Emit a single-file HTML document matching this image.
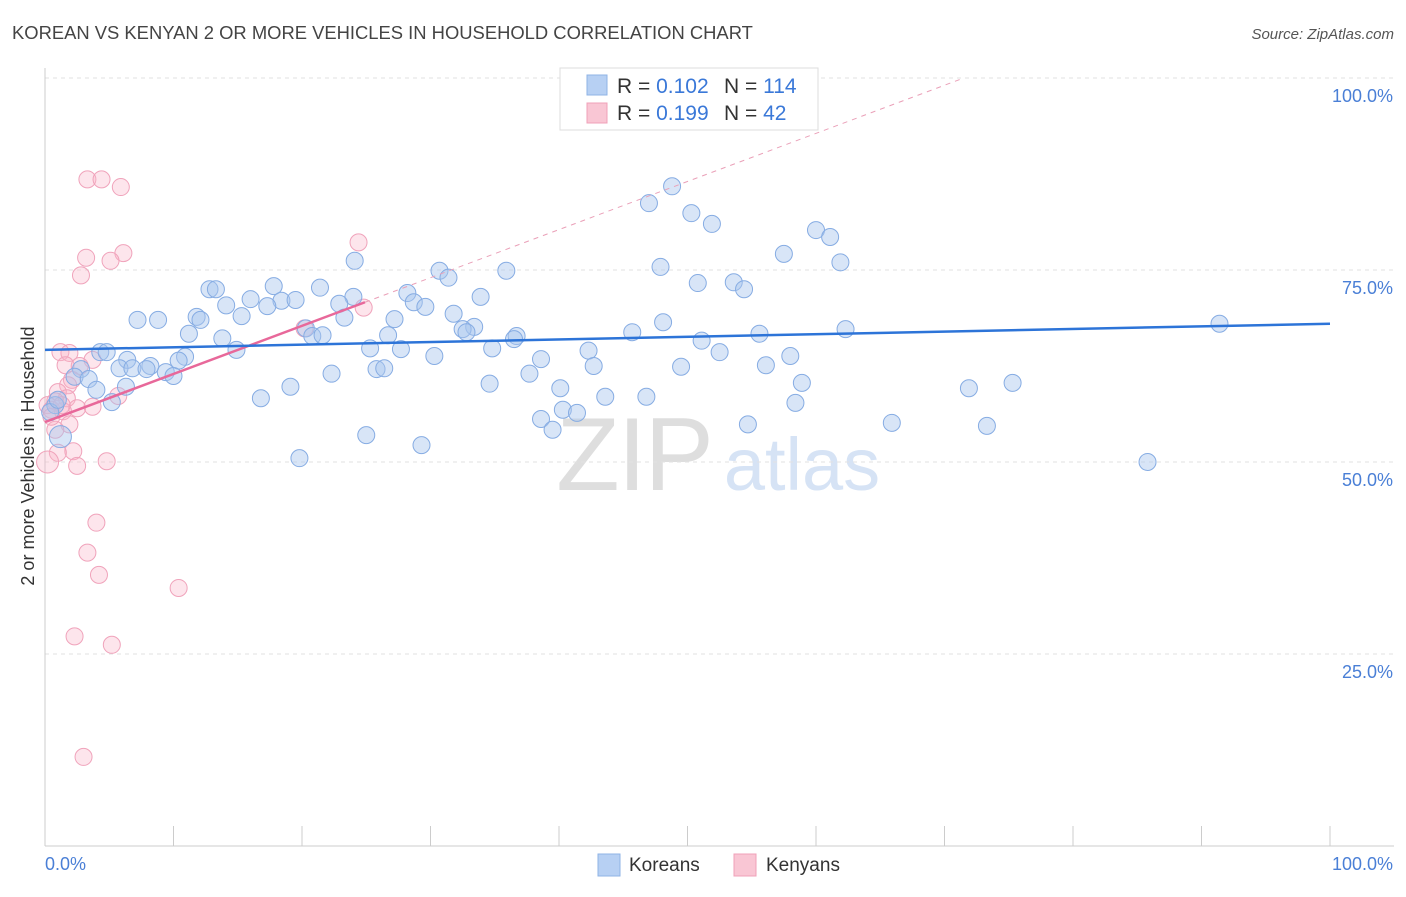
<!DOCTYPE html>
<html><head><meta charset="utf-8">
<style>
body{margin:0;background:#fff;font-family:"Liberation Sans",sans-serif;}
svg text{font-family:"Liberation Sans",sans-serif;}
</style></head>
<body>
<svg id="chart" width="1406" height="892" viewBox="0 0 1406 892" xmlns="http://www.w3.org/2000/svg">
<text x="12" y="39" font-size="18.4" fill="#444">KOREAN VS KENYAN 2 OR MORE VEHICLES IN HOUSEHOLD CORRELATION CHART</text>
<text x="1394" y="39" font-size="15" fill="#555" text-anchor="end" font-style="italic">Source: ZipAtlas.com</text>
<text transform="translate(34,456) rotate(-90)" font-size="18" fill="#333" text-anchor="middle">2 or more Vehicles in Household</text>
<g>
<text x="634" y="490" font-size="104" fill="#dedede" text-anchor="middle" font-family="Liberation Serif, serif" letter-spacing="-2">ZIP</text>
<text x="802" y="490" font-size="74" fill="#d6e3f5" text-anchor="middle">atlas</text>
</g>
<g id="grid"></g>
<g id="axes"></g>
<g id="pinkPts"></g>
<g id="bluePts"></g>
<g id="trends"></g>
<g>
<rect x="560" y="68" width="258" height="62" fill="#fff" stroke="#ddd"/>
<rect x="587" y="75" width="20" height="20" fill="#b7d0f3" stroke="#8fb3e6"/>
<rect x="587" y="103" width="20" height="20" fill="#f9c6d4" stroke="#f0a0b8"/>
<text x="617" y="93" font-size="21" fill="#333">R = <tspan fill="#3a78d8">0.102</tspan></text>
<text x="724" y="93" font-size="21" fill="#333">N = <tspan fill="#3a78d8">114</tspan></text>
<text x="617" y="120" font-size="21" fill="#333">R = <tspan fill="#3a78d8">0.199</tspan></text>
<text x="724" y="120" font-size="21" fill="#333">N = <tspan fill="#3a78d8"> 42</tspan></text>
</g>
<g>
<rect x="598" y="854" width="22" height="22" fill="#b7d0f3" stroke="#8fb3e6"/>
<text x="629" y="871" font-size="19" fill="#333">Koreans</text>
<rect x="734" y="854" width="22" height="22" fill="#f9c6d4" stroke="#f0a0b8"/>
<text x="766" y="871" font-size="19" fill="#333">Kenyans</text>
</g>
</svg>
<script>
const blueX=[48.8,47.0,50.3,51.9,60.0,61.1,57.5,61.9,47.9,24.1,30.7,31.4,35.9,17.8,12.8,13.3,21.4,50.8,53.6,54.4,28.2,24.0,33.9,16.0,18.4,19.5,17.3,22.9,28.7,29.6,14.1,11.8,12.1,15.3,7.2,8.8,23.3,27.2,31.8,20.3,33.4,32.5,32.8,11.2,13.8,20.8,21.6,26.7,36.7,36.5,45.7,48.1,51.1,55.6,62.3,91.4,14.9,25.3,27.7,34.8,42.3,52.5,58.0,4.3,4.8,6.4,10.9,30.3,38.6,5.8,6.8,8.2,7.9,10.4,9.4,10.0,2.8,2.3,3.4,4.0,6.3,25.8,26.4,22.3,49.5,56.1,42.7,37.7,34.6,19.1,58.9,40.1,43.6,46.8,58.4,16.8,5.2,71.9,75.3,38.6,40.3,41.4,39.5,54.7,65.9,73.3,25.0,29.3,19.8,85.8,1.2,0.8,0.4,1.0];
const blueY=[85.9,83.7,82.4,81.0,80.2,79.3,77.1,76.0,75.4,76.2,74.9,74.0,74.9,72.9,72.5,72.5,72.7,73.3,73.4,72.5,72.0,71.5,71.5,71.2,71.0,71.1,70.3,70.6,70.8,70.2,70.4,68.9,68.5,69.0,68.5,68.5,68.8,68.6,69.3,67.4,67.6,67.3,66.9,66.7,66.1,66.4,66.5,66.5,66.4,66.0,66.9,68.2,65.8,66.7,67.3,68.0,64.6,64.8,64.7,64.8,64.5,64.3,63.8,64.3,64.3,63.3,63.7,63.8,63.4,62.2,62.2,62.5,62.1,63.2,61.7,61.2,62.1,61.1,60.8,59.4,59.8,62.1,62.2,61.5,62.4,62.6,62.5,61.5,60.2,59.8,60.3,59.6,58.5,58.5,57.7,58.3,57.8,59.6,60.3,55.6,56.8,56.4,54.2,54.9,55.1,54.7,53.5,52.2,50.5,50.0,53.3,57.4,56.5,58.1];
const pinkX=[3.3,4.4,5.9,6.1,3.2,5.1,2.8,24.4,24.8,20.2,1.2,1.9,3.7,1.6,2.7,2.1,1.8,1.0,1.7,0.8,0.2,0.5,2.5,3.7,5.7,1.4,1.9,2.2,1.0,2.5,4.8,0.2,4.0,3.3,4.2,10.4,2.3,5.2,3.0,0.8,1.3,0.5];
const pinkY=[86.8,86.8,85.8,77.2,76.6,76.2,74.3,78.6,70.1,67.4,64.3,64.2,63.3,62.6,62.5,60.7,60.0,59.1,58.3,57.9,57.4,56.8,57.0,57.2,58.6,56.6,54.9,51.4,51.2,49.5,50.1,50.0,42.1,38.2,35.3,33.6,27.3,26.2,11.6,54.2,57.4,55.9];
const blueTrend=[64.6,68.0];
const pinkTrend=[55.2,70.8];
const pinkMaxX=24.9;
const yTicks=[25,50,75,100];
const yTickLabels=["25.0%","50.0%","75.0%","100.0%"];
const xTicks=[0,10,20,30,40,50,60,70,80,90,100];

const X0=45,X1=1330,Y0=846,Y100=78;
const sx=v=>X0+(X1-X0)*v/100;
const sy=v=>Y0-(Y0-Y100)*v/100;
const NS="http://www.w3.org/2000/svg";
function mk(tag,parent,attrs){const e=document.createElementNS(NS,tag);for(const k in attrs)e.setAttribute(k,attrs[k]);parent.appendChild(e);return e;}
const grid=document.getElementById('grid'),axes=document.getElementById('axes');
yTicks.forEach((t,i)=>{
  const l=mk('line',grid,{x1:X0,x2:1394,y1:sy(t),y2:sy(t),stroke:'#e2e2e2','stroke-dasharray':'4,4'});
  
  
  const tx=mk('text',axes,{x:1393,y:sy(t)+24,'font-size':18,fill:'#4a7fd6','text-anchor':'end'});
  tx.textContent=yTickLabels[i];
  
  
});
const ya=mk('line',axes,{x1:X0,x2:X0,y1:68,y2:Y0,stroke:'#ccc'});


const xa=mk('line',axes,{x1:X0,x2:1394,y1:Y0,y2:Y0,stroke:'#ccc'});


xTicks.forEach(t=>{
  const l=mk('line',axes,{x1:sx(t),x2:sx(t),y1:826,y2:Y0,stroke:'#ccc'});
  
  
});
const xl0=mk('text',axes,{x:45,y:870,'font-size':18,fill:'#4a7fd6'});xl0.textContent='0.0%';


const xl1=mk('text',axes,{x:1393,y:870,'font-size':18,fill:'#4a7fd6','text-anchor':'end'});xl1.textContent='100.0%';



const bg=document.getElementById('bluePts'),pg=document.getElementById('pinkPts');
pinkX.forEach((x,i)=>{
  const c=mk('circle',pg,{cx:sx(x),cy:sy(pinkY[i]),r:(x<0.5&&pinkY[i]===50)?11:8.5,fill:'rgba(248,180,200,0.35)',stroke:'#f0a3bb','stroke-width':1});
  
  
});
blueX.forEach((x,i)=>{
  const c=mk('circle',bg,{cx:sx(x),cy:sy(blueY[i]),r:(i===blueX.length-4)?11:8.5,fill:'rgba(168,198,238,0.45)',stroke:'#86ace3','stroke-width':1});
  
  
});
const tr=document.getElementById('trends');
const slope=(pinkTrend[1]-pinkTrend[0])/pinkMaxX;
const xAt100=(100-pinkTrend[0])/slope;
const pd=mk('line',tr,{x1:sx(pinkMaxX),y1:sy(pinkTrend[1]),x2:sx(xAt100),y2:sy(100),stroke:'#eaa0b8','stroke-width':1,'stroke-dasharray':'5,5'});


const ps=mk('line',tr,{x1:sx(0),y1:sy(pinkTrend[0]),x2:sx(pinkMaxX),y2:sy(pinkTrend[1]),stroke:'#e8689a','stroke-width':2.5});


const bl=mk('line',tr,{x1:sx(0),y1:sy(blueTrend[0]),x2:sx(100),y2:sy(blueTrend[1]),stroke:'#2d74d8','stroke-width':2.5});


</script>
</body></html>
